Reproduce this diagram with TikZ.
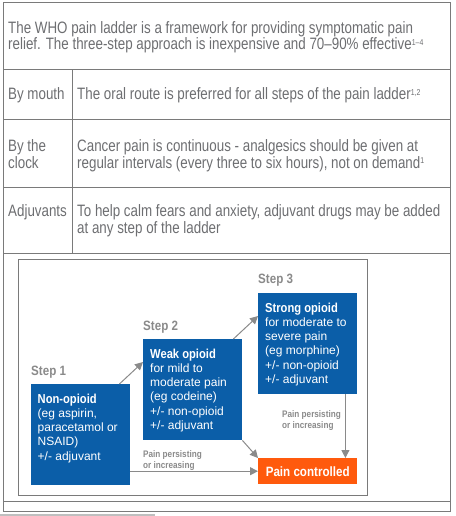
\documentclass[tikz,border=0pt]{standalone}
\usepackage{fontspec}
\setmainfont{Liberation Sans}
\newfontfamily\tabfont[FakeStretch=0.81,Ligatures=TeX]{Liberation Sans}
\newfontfamily\boxfont[Ligatures=TeX]{Liberation Sans}
\newfontfamily\condfont[FakeStretch=0.86,Ligatures=TeX]{Liberation Sans}
\usetikzlibrary{arrows.meta,calc}
\definecolor{tabgray}{HTML}{6D6E71}
\definecolor{linegray}{HTML}{7A7A7A}
\definecolor{whoblue}{HTML}{0B5EA8}
\definecolor{whoorange}{HTML}{FF5A0D}
\definecolor{arrgray}{HTML}{8A8A8A}
\newcommand{\supr}[1]{\raisebox{4.5pt}{\fontsize{8.5}{9}\selectfont #1}}
\begin{document}
\begin{tikzpicture}[x=1pt,y=-1pt,
 tabtext/.style={anchor=base west, inner sep=0pt, align=left, text=tabgray, font=\tabfont\fontsize{16.5}{16.5}\selectfont},
 stepbox/.style={fill=whoblue, draw=none, anchor=north west, inner sep=0pt},
 boxtext/.style={anchor=base west, inner sep=0pt, align=left, text=white, font=\boxfont\fontsize{12}{14.3}\selectfont},
 steplabel/.style={anchor=base west, inner sep=0pt, text=arrgray, font=\condfont\bfseries\fontsize{13.5}{14}\selectfont},
 smalllabel/.style={anchor=base west, inner sep=0pt, align=left, text=arrgray, font=\condfont\bfseries\fontsize{9.5}{10.8}\selectfont},
 conn/.style={draw=arrgray, line width=1pt, -{Triangle[length=8pt,width=8pt]}},
 rule/.style={draw=linegray, line width=1pt}]
\useasboundingbox (0,0) rectangle (455,516);
% table frame
\draw[rule] (3,3) rectangle (450,511);
\draw[rule] (3,70) -- (450,70);
\draw[rule] (3,119) -- (450,119);
\draw[rule] (3,187) -- (450,187);
\draw[rule] (3,253) -- (450,253);
\draw[rule] (3,501) -- (450,501);
\draw[rule] (72,70) -- (72,253);
\draw[draw=black!25, line width=2pt] (0,514.5) -- (155,514.5);
% table text (multi-line nodes: base = last line)
\node[tabtext] (intro) at (8,50) {The WHO pain ladder is a framework for providing symptomatic pain\\relief. The three-step approach is inexpensive and 70–90\% effective\supr{1–4}};
\node[tabtext] (k1) at (8,99.5) {By mouth};
\node[tabtext] (v1) at (77,99.5) {The oral route is preferred for all steps of the pain ladder\supr{1,2}};
\node[tabtext] (k2) at (8,168) {By the\\clock};
\node[tabtext] (v2) at (77,168) {Cancer pain is continuous - analgesics should be given at\\regular intervals (every three to six hours), not on demand\supr{1}};
\node[tabtext] (k3) at (8,216.5) {Adjuvants};
\node[tabtext] (v3) at (77,233) {To help calm fears and anxiety, adjuvant drugs may be added\\at any step of the ladder};
% diagram frame
\draw[rule] (18,259) rectangle (367,495);
% boxes
\node[stepbox, minimum width=99, minimum height=101] (s1) at (31,384) {};
\node[stepbox, minimum width=99, minimum height=101] (s2) at (143,339) {};
\node[stepbox, minimum width=99, minimum height=101] (s3) at (258,293) {};
\node[fill=whoorange, anchor=north west, inner sep=0pt, minimum width=99, minimum height=26] (pc) at (258,458) {};
% step labels
\node[steplabel] (l1) at (31,375) {Step 1};
\node[steplabel] (l2) at (143,330) {Step 2};
\node[steplabel] (l3) at (258,283) {Step 3};
% box texts
\node[boxtext] (t1) at (37.5,460.2) {{\condfont\bfseries\fontsize{13}{14.3}\selectfont Non-opioid}\\(eg aspirin,\\paracetamol or\\NSAID)\\+/- adjuvant};
\node[boxtext] (t2) at (150,429.5) {{\condfont\bfseries\fontsize{13}{14.3}\selectfont Weak opioid}\\for mild to\\moderate pain\\(eg codeine)\\+/- non-opioid\\+/- adjuvant};
\node[boxtext] (t3) at (265,383.5) {{\condfont\bfseries\fontsize{13}{14.3}\selectfont Strong opioid}\\for moderate to\\severe pain\\(eg morphine)\\+/- non-opioid\\+/- adjuvant};
\node[anchor=center, inner sep=0pt, text=white, font=\condfont\bfseries\fontsize{13.5}{14}\selectfont] (pct) at (pc.center) {Pain controlled};
% small labels
\node[smalllabel] (p1) at (143,468) {Pain persisting\\or increasing};
\node[smalllabel] (p2) at (282,428.5) {Pain persisting\\or increasing};
% connectors
\draw[conn] ([xshift=-11pt]s1.north east) -- ([yshift=-23pt]s2.north west);
\draw[conn] ([xshift=-9pt]s2.north east) -- ([yshift=-23pt]s3.north west);
\draw[conn] (s1.east |- pc.west) -- (pc.west);
\draw[conn] (s2.south east) -- (pc.north west);
\draw[conn] ([xshift=-12pt]s3.south east) -- ([xshift=-12pt]pc.north east);
\end{tikzpicture}
\end{document}
